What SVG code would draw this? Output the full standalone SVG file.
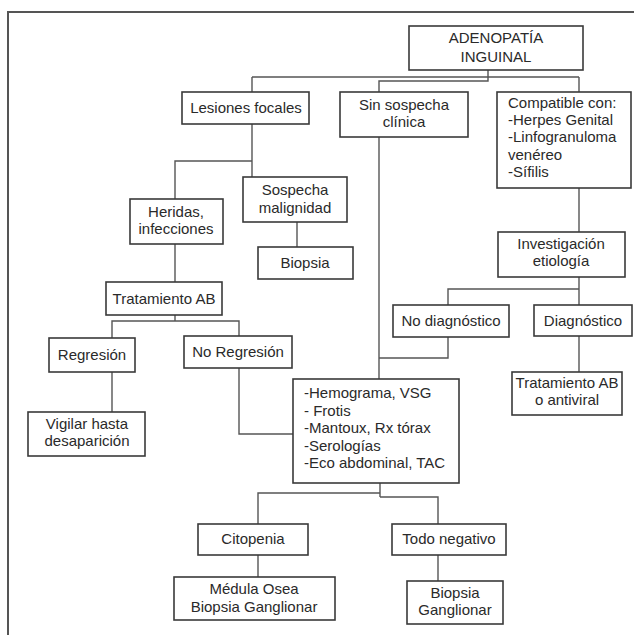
<svg xmlns="http://www.w3.org/2000/svg" width="634" height="635" viewBox="0 0 634 635">
<style>
.b{fill:#fff;stroke:#3a3a3a;stroke-width:1.6}
.t{font-family:"Liberation Sans",Arial,sans-serif;font-size:15px;fill:#2a2a2a;text-anchor:middle}
.l{text-anchor:start}
.c{fill:none;stroke:#555;stroke-width:1.4}
.f{fill:none;stroke:#555;stroke-width:2}
</style>
<rect width="634" height="635" fill="#fff"/>
<path class="f" d="M8,635 V12 H634"/>
<g id="connectors">
<path class="c" d="M252,77 H579"/>
<path class="c" d="M488,70 V81 H379 V92"/>
<path class="c" d="M252,77 V92"/>
<path class="c" d="M579,77 V92"/>
<path class="c" d="M252,124 V177"/>
<path class="c" d="M252,161 H175 V199"/>
<path class="c" d="M297,222 V247"/>
<path class="c" d="M175,244 V282"/>
<path class="c" d="M175,315 V321"/>
<path class="c" d="M112,338 V321 H239 V336"/>
<path class="c" d="M112,372 V412"/>
<path class="c" d="M239,368 V434 H293"/>
<path class="c" d="M379,137 V379"/>
<path class="c" d="M448,337 V358 H379"/>
<path class="c" d="M579,188 V232"/>
<path class="c" d="M579,277 V305"/>
<path class="c" d="M448,305 V289 H579"/>
<path class="c" d="M579,336 V372"/>
<path class="c" d="M380,483 V497"/>
<path class="c" d="M258,524 V493 H380"/>
<path class="c" d="M380,497 H438 V524"/>
<path class="c" d="M258,555 V577"/>
<path class="c" d="M438,555 V581"/>
</g>
<g id="root"><rect class="b" x="409" y="26" width="174" height="44"/><text class="t" x="496" y="43">ADENOPATÍA</text><text class="t" x="496" y="62">INGUINAL</text></g>
<g id="lesiones"><rect class="b" x="182" y="92" width="127" height="32"/><text class="t" x="246" y="113">Lesiones focales</text></g>
<g id="sinsospecha"><rect class="b" x="340" y="92" width="128" height="45"/><text class="t" x="404" y="110">Sin sospecha</text><text class="t" x="404" y="127">clínica</text></g>
<g id="compatible"><rect class="b" x="497" y="92" width="134" height="96"/><text class="t l" x="508" y="108">Compatible con:</text><text class="t l" x="508" y="125">-Herpes Genital</text><text class="t l" x="508" y="142">-Linfogranuloma</text><text class="t l" x="508" y="160">venéreo</text><text class="t l" x="508" y="177">-Sífilis</text></g>
<g id="heridas"><rect class="b" x="130" y="199" width="93" height="45"/><text class="t" x="176" y="217">Heridas,</text><text class="t" x="176" y="234">infecciones</text></g>
<g id="sospecha"><rect class="b" x="243" y="177" width="104" height="45"/><text class="t" x="295" y="195">Sospecha</text><text class="t" x="295" y="213">malignidad</text></g>
<g id="biopsia"><rect class="b" x="258" y="247" width="95" height="32"/><text class="t" x="305" y="268">Biopsia</text></g>
<g id="tratamiento"><rect class="b" x="106" y="282" width="116" height="33"/><text class="t" x="164" y="304">Tratamiento AB</text></g>
<g id="regresion"><rect class="b" x="49" y="338" width="86" height="34"/><text class="t" x="92" y="360">Regresión</text></g>
<g id="noregresion"><rect class="b" x="184" y="336" width="108" height="32"/><text class="t" x="238" y="357">No Regresión</text></g>
<g id="vigilar"><rect class="b" x="28" y="412" width="117" height="44"/><text class="t" x="87" y="429">Vigilar hasta</text><text class="t" x="87" y="446">desaparición</text></g>
<g id="investigacion"><rect class="b" x="498" y="232" width="127" height="45"/><text class="t" x="561" y="249">Investigación</text><text class="t" x="561" y="266">etiología</text></g>
<g id="nodiagnostico"><rect class="b" x="393" y="305" width="116" height="32"/><text class="t" x="451" y="326">No diagnóstico</text></g>
<g id="diagnostico"><rect class="b" x="534" y="305" width="98" height="31"/><text class="t" x="583" y="326">Diagnóstico</text></g>
<g id="tratamientoav"><rect class="b" x="512" y="372" width="110" height="43"/><text class="t" x="567" y="388">Tratamiento AB</text><text class="t" x="567" y="405">o antiviral</text></g>
<g id="hemograma"><rect class="b" x="293" y="379" width="166" height="104"/><text class="t l" x="304" y="398">-Hemograma, VSG</text><text class="t l" x="304" y="415.5">- Frotis</text><text class="t l" x="304" y="433">-Mantoux, Rx tórax</text><text class="t l" x="304" y="450.5">-Serologías</text><text class="t l" x="304" y="468">-Eco abdominal, TAC</text></g>
<g id="citopenia"><rect class="b" x="198" y="524" width="110" height="31"/><text class="t" x="253" y="544">Citopenia</text></g>
<g id="todonegativo"><rect class="b" x="392" y="524" width="114" height="31"/><text class="t" x="449" y="544">Todo negativo</text></g>
<g id="medula"><rect class="b" x="174" y="577" width="161" height="43"/><text class="t" x="254" y="594">Médula Osea</text><text class="t" x="254" y="612">Biopsia Ganglionar</text></g>
<g id="biopsiag"><rect class="b" x="407" y="581" width="96" height="43"/><text class="t" x="455" y="598">Biopsia</text><text class="t" x="455" y="615">Ganglionar</text></g>
</svg>
